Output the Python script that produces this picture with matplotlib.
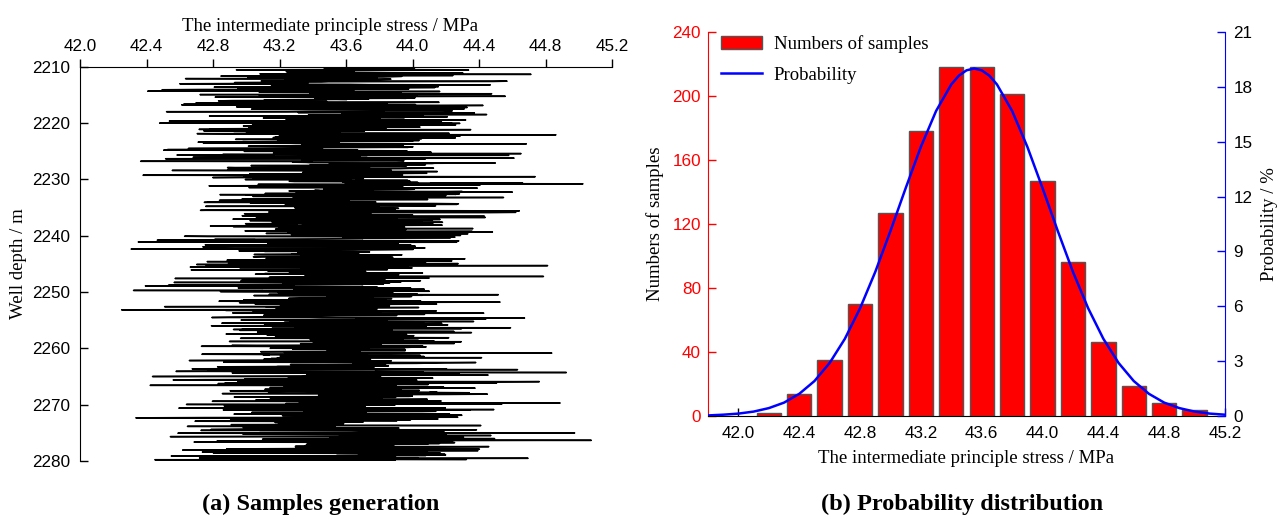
#!/usr/bin/env python3
"""
Stress samples along well depth and their probability distribution
"""

import numpy as np
import matplotlib.pyplot as plt

# histogram: bin centres (MPa) and sample counts
bin_centres = [42.2, 42.4, 42.6, 42.8, 43.0, 43.2, 43.4, 43.6,
               43.8, 44.0, 44.2, 44.4, 44.6, 44.8, 45.0]
bin_counts = [2, 14, 35, 70, 127, 178, 218, 218, 201, 147, 96, 46, 19, 8, 4]

# probability curve, in %
curve_x = [41.8, 41.9, 42.0, 42.1, 42.2, 42.3, 42.4, 42.5, 42.6, 42.7, 42.8,
           42.9, 43.0, 43.1, 43.2, 43.3, 43.4, 43.45, 43.5, 43.55, 43.6, 43.65,
           43.7, 43.8, 43.9, 44.0, 44.1, 44.2, 44.3, 44.4, 44.5, 44.6, 44.7,
           44.8, 44.9, 45.0, 45.1, 45.2]
curve_p = [0.03, 0.07, 0.13, 0.24, 0.43, 0.73, 1.21, 1.91, 2.90, 4.22, 5.89,
           7.88, 10.12, 12.46, 14.72, 16.68, 18.13, 18.61, 18.90, 19.00, 18.90,
           18.61, 18.13, 16.68, 14.72, 12.46, 10.12, 7.88, 5.89, 4.22, 2.90,
           1.91, 1.21, 0.73, 0.43, 0.24, 0.13, 0.07]

stress_ticks = [42.0, 42.4, 42.8, 43.2, 43.6, 44.0, 44.4, 44.8, 45.2]
depth_top, depth_bottom = 2210, 2280

SERIF = ['Liberation Serif', 'DejaVu Serif']
SANS = ['Liberation Sans', 'DejaVu Sans']


def build_trace():
    """Samples from the histogram bins, spread inside each bin, in a fixed mixed order"""
    vals = []
    for c, n in zip(bin_centres, bin_counts):
        vals.extend(c - 0.1 + (np.arange(n) + 0.5) * 0.2 / n)
    vals = np.array(vals)
    # quadratic Weyl ordering so neighbouring depths jump around the distribution
    k = np.arange(len(vals), dtype=float)
    order = np.argsort((k * k * 0.6180339887) % 1.0)
    vals = vals[order]
    depth = np.linspace(depth_top, depth_bottom, len(vals))
    return vals, depth


fig = plt.figure(figsize=(12.81, 5.19), dpi=100)

# (a) samples along depth
ax1 = fig.add_axes([0.0625, 0.112, 0.4153, 0.759])
vals, depth = build_trace()
ax1.plot(vals, depth, color='black', linewidth=1.1)
ax1.set_xlim(42.0, 45.2)
ax1.set_ylim(depth_bottom, depth_top)
ax1.set_xticks(stress_ticks)
ax1.set_xticklabels([f'{t:.1f}' for t in stress_ticks])
ax1.set_yticks(range(2210, 2281, 10))
ax1.xaxis.tick_top()
ax1.xaxis.set_label_position('top')
for s in ['right', 'bottom']:
    ax1.spines[s].set_visible(False)
ax1.tick_params(axis='x', direction='out', length=6, width=1, labelsize=12.3,
                pad=3)
ax1.tick_params(axis='y', direction='in', length=6, width=1, labelsize=12.3,
                pad=7)
for lab in ax1.get_xticklabels() + ax1.get_yticklabels():
    lab.set_family(SANS)
ax1.set_xlabel('The intermediate principle stress / MPa', fontsize=13.5,
               family=SERIF, labelpad=5)
ax1.xaxis.set_label_coords(0.469, 1.09)
ax1.set_ylabel('Well depth / m', fontsize=13.5, family=SERIF, labelpad=4)

# (b) histogram with probability curve
ax2 = fig.add_axes([0.5527, 0.1985, 0.4036, 0.74])
ax2.bar(bin_centres, bin_counts, width=0.16, color='#ff0000',
        edgecolor='#555555', linewidth=1, label='Numbers of samples', zorder=2)
ax2.set_xlim(41.8, 45.2)
ax2.set_ylim(0, 240)
ax2.set_xticks(stress_ticks)
ax2.set_xticklabels([f'{t:.1f}' for t in stress_ticks])
ax2.set_yticks(range(0, 241, 40))
ax2.spines['top'].set_visible(False)
ax2.spines['left'].set_color('red')
ax2.spines['right'].set_visible(False)
ax2.tick_params(axis='x', direction='in', length=6, width=1, labelsize=12.3,
                pad=7)
ax2.tick_params(axis='y', direction='in', length=6, width=1, labelsize=12.3,
                colors='red', pad=5)
for lab in ax2.get_xticklabels() + ax2.get_yticklabels():
    lab.set_family(SANS)
ax2.set_xlabel('The intermediate principle stress / MPa', fontsize=13.5,
               family=SERIF, labelpad=7)
ax2.set_ylabel('Numbers of samples', fontsize=13.5, family=SERIF, labelpad=6)

ax3 = ax2.twinx()
ax3.plot(curve_x, curve_p, color='#0000ff', linewidth=1.8, label='Probability',
         zorder=3)
ax3.set_ylim(0, 21)
ax3.set_yticks(range(0, 22, 3))
for s in ['top', 'left', 'bottom']:
    ax3.spines[s].set_visible(False)
ax3.spines['right'].set_color('blue')
ax3.tick_params(axis='y', direction='in', length=6, width=1, labelsize=12.3,
                colors='blue', labelcolor='black', pad=6)
for lab in ax3.get_yticklabels():
    lab.set_family(SANS)
ax3.set_ylabel('Probability / %', fontsize=13.5, family=SERIF, labelpad=6)

h1, l1 = ax2.get_legend_handles_labels()
h2, l2 = ax3.get_legend_handles_labels()
ax3.legend(h1 + h2, l1 + l2, loc='upper left', bbox_to_anchor=(0.0, 1.025),
           frameon=False, prop={'family': SERIF, 'size': 13.5},
           handlelength=2.2, handletextpad=0.6, borderaxespad=0.3,
           labelspacing=0.7)

fig.text(0.25, 0.017, '(a) Samples generation', ha='center', va='baseline',
         fontsize=17.5, fontweight='bold', family=SERIF)
fig.text(0.751, 0.017, '(b) Probability distribution', ha='center',
         va='baseline', fontsize=17.5, fontweight='bold', family=SERIF)

plt.savefig('out.png', dpi=100)
plt.close()
